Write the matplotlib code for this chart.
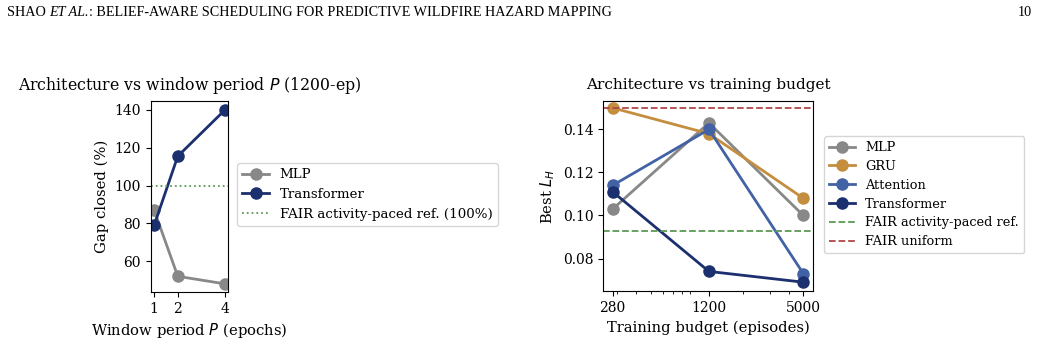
import matplotlib
matplotlib.use("Agg")
import matplotlib.pyplot as plt

plt.rcParams['font.family'] = ['DejaVu Serif']
plt.rcParams['mathtext.fontset'] = 'dejavusans'

# Left panel data
periods = [1, 2, 4]
gap_mlp = [87, 52, 48]
gap_transformer = [79, 115.5, 140]
fair_ref_gap = 100

# Right panel data
budgets = [280, 1200, 5000]
lh_mlp = [0.103, 0.143, 0.100]
lh_gru = [0.150, 0.138, 0.108]
lh_attention = [0.114, 0.140, 0.073]
lh_transformer = [0.111, 0.074, 0.069]
fair_activity = 0.093
fair_uniform = 0.150

c_mlp = '#888888'
c_gru = '#c48e3e'
c_att = '#4262a5'
c_tr = '#1c2f6e'
c_green = '#5a9a55'
c_red = '#b0474a'

fig = plt.figure(figsize=(10.4, 3.45), dpi=100)

# Header
hdr_y = 1 - 12/345
fs_h = 10.2
r = fig.canvas.get_renderer()
t1 = fig.text(7/1040, hdr_y, "SHAO ", family='Liberation Serif', fontsize=fs_h, va='center')
bb = t1.get_window_extent(r)
t2 = fig.text(bb.x1/1040, hdr_y, "ET AL.", family='Liberation Serif', style='italic', fontsize=fs_h, va='center')
bb = t2.get_window_extent(r)
fig.text(bb.x1/1040, hdr_y, ": BELIEF-AWARE SCHEDULING FOR PREDICTIVE WILDFIRE HAZARD MAPPING",
         family='Liberation Serif', fontsize=fs_h, va='center')
fig.text(1032/1040, hdr_y, "10", family='Liberation Serif', fontsize=fs_h, va='center', ha='right')

lab_fs = 10.6

# Left axes
ax1 = fig.add_axes([150.5/1040, 1-292/345, (228.3-150.5)/1040, (292-101)/345])
ax1.plot(periods, gap_mlp, '-o', color=c_mlp, lw=2, ms=8, label='MLP')
ax1.plot(periods, gap_transformer, '-o', color=c_tr, lw=2, ms=8, label='Transformer')
ax1.axhline(fair_ref_gap, color=c_green, ls=':', lw=1.3, label='FAIR activity-paced ref. (100%)')
ax1.set_xlim(0.845, 4.14)
ax1.set_ylim(43.7, 144.7)
ax1.set_xticks(periods)
ax1.set_yticks([60, 80, 100, 120, 140])
ax1.set_xlabel('Window period $P$ (epochs)', fontsize=lab_fs)
ax1.set_ylabel('Gap closed (%)', fontsize=lab_fs)
ax1.tick_params(labelsize=10)
fig.text(18/1040, 1-86/345, 'Architecture vs window period $P$ (1200-ep)', fontsize=11.35, va='center')
ax1.legend(loc='upper left', bbox_to_anchor=(237/1040, 1-163/345), bbox_transform=fig.transFigure,
           fontsize=9.6, borderaxespad=0, framealpha=0.8)

# Right axes
ax2 = fig.add_axes([603.3/1040, 1-291/345, (813.3-603.3)/1040, (291-101)/345])
ax2.plot(budgets, lh_mlp, '-o', color=c_mlp, lw=2, ms=8, label='MLP')
ax2.plot(budgets, lh_gru, '-o', color=c_gru, lw=2, ms=8, label='GRU')
ax2.plot(budgets, lh_attention, '-o', color=c_att, lw=2, ms=8, label='Attention')
ax2.plot(budgets, lh_transformer, '-o', color=c_tr, lw=2, ms=8, label='Transformer')
ax2.axhline(fair_activity, color=c_green, ls='--', lw=1.3, label='FAIR activity-paced ref.')
ax2.axhline(fair_uniform, color=c_red, ls='--', lw=1.3, label='FAIR uniform')
ax2.set_xscale('log')
ax2.set_xlim(243, 5816)
ax2.set_ylim(0.0649, 0.1532)
ax2.set_xticks(budgets)
ax2.set_xticklabels([str(b) for b in budgets])
ax2.set_yticks([0.08, 0.10, 0.12, 0.14])
ax2.set_xlabel('Training budget (episodes)', fontsize=lab_fs)
ax2.set_ylabel('Best $L_H$', fontsize=lab_fs)
ax2.tick_params(labelsize=10)
fig.text(708/1040, 1-85/345, 'Architecture vs training budget', fontsize=11, va='center', ha='center')
ax2.legend(loc='upper left', bbox_to_anchor=(824/1040, 1-136/345), bbox_transform=fig.transFigure,
           fontsize=9.3, borderaxespad=0, framealpha=0.8, labelspacing=0.45)

fig.savefig('out.png', dpi=100)
